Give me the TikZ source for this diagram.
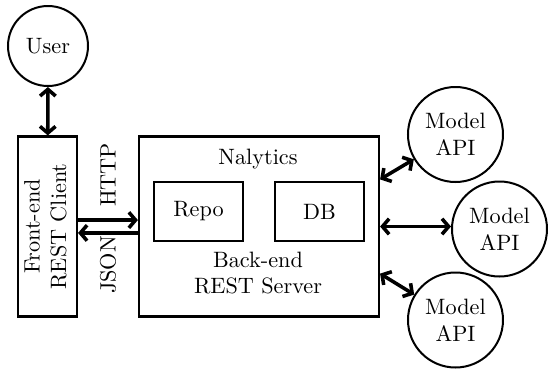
\documentclass[tikz,border=0pt]{standalone}
\usetikzlibrary{arrows.meta}
\begin{document}
\begin{tikzpicture}[x=0.45pt,y=-0.45pt,
  box/.style={draw,line width=1pt,inner sep=0pt},
  circ/.style={draw,circle,line width=0.9pt,inner sep=0pt,align=center},
  txt/.style={inner sep=0pt,align=center},
  arr/.style={line width=1.6pt,{Straight Barb[length=3pt,width=7pt]}-{Straight Barb[length=3pt,width=7pt]}},
  arrR/.style={line width=1.6pt,-{Straight Barb[length=3pt,width=7pt]}}]
\useasboundingbox (0,0) rectangle (549,370);
\node[circ,minimum size=36pt] (user) at (48,46) {User};
\node[box,minimum width=26.5pt,minimum height=81pt] (fe) at (47.5,226.5)
  {\rotatebox{90}{\begin{tabular}{@{}c@{}}Front-end\\REST Client\end{tabular}}};
\node[box,minimum width=108pt,minimum height=81pt] (be) at (259,226.5) {};
\node[txt] (nal) at (258,159) {Nalytics};
\node[box,minimum width=40pt,minimum height=26.5pt] (repo) at (198.5,211.5) {Repo};
\node[box,minimum width=40pt,minimum height=26.5pt] (db) at (319.5,211.5) {DB};
\node[txt] (ber) at (258,273) {Back-end\\REST Server};
\node[circ,minimum size=42.75pt] (m1) at (455.5,134.5) {Model\\API};
\node[circ,minimum size=42.75pt] (m2) at (499.5,229) {Model\\API};
\node[circ,minimum size=42.75pt] (m3) at (455.5,320) {Model\\API};
\node[txt,rotate=90] (http) at (108,175) {HTTP};
\node[txt,rotate=90] (json) at (108,265) {JSON};
\draw[arr] (user) -- (fe);
\draw[arrR] ([yshift=2.9pt]fe.east) -- ([yshift=2.9pt]be.west);
\draw[arrR] ([yshift=-2.9pt]be.west) -- ([yshift=-2.9pt]fe.east);
\coordinate (e1) at ([yshift=21.2pt]be.east);
\coordinate (e3) at ([yshift=-21.2pt]be.east);
\draw[arr] (e1) -- (m1);
\draw[arr] (be.east) -- (be.east -| m2.west);
\draw[arr] (e3) -- (m3);
\end{tikzpicture}
\end{document}
